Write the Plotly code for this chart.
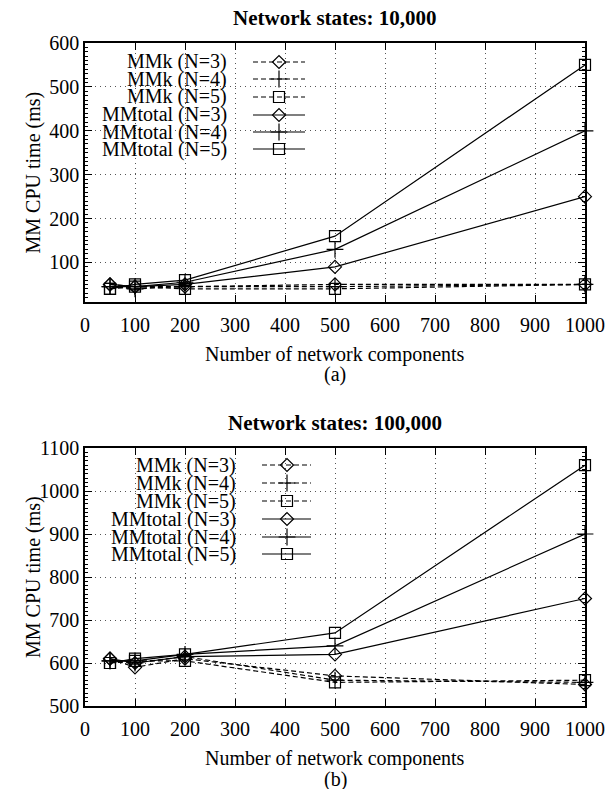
import plotly.graph_objects as go

# ---------------- data ----------------
components = [50, 100, 200, 500, 1000]
series_names = ["MMk (N=3)", "MMk (N=4)", "MMk (N=5)",
                "MMtotal (N=3)", "MMtotal (N=4)", "MMtotal (N=5)"]

# Network states: 10,000
a_mmk_n3 = [50, 45, 45, 50, 50]
a_mmk_n4 = [45, 40, 45, 45, 50]
a_mmk_n5 = [40, 45, 40, 40, 50]
a_mmt_n3 = [50, 45, 50, 90, 250]
a_mmt_n4 = [45, 45, 55, 130, 400]
a_mmt_n5 = [40, 50, 60, 160, 550]

# Network states: 100,000
b_mmk_n3 = [610, 590, 610, 570, 550]
b_mmk_n4 = [605, 600, 615, 560, 555]
b_mmk_n5 = [600, 605, 605, 555, 560]
b_mmt_n3 = [610, 600, 615, 620, 750]
b_mmt_n4 = [605, 605, 620, 640, 900]
b_mmt_n5 = [600, 610, 620, 670, 1060]

titles = ["Network states: 10,000", "Network states: 100,000"]
x_title = "Number of network components"
y_title = "MM CPU time (ms)"
sub_labels = ["(a)", "(b)"]

# ---------------- styling ----------------
W, H = 607, 789
FONT = "Liberation Serif"
symbols = ["diamond-open", "cross-thin-open", "square-open"] * 2
dashes = ["5px,3px"] * 3 + ["solid"] * 3
msize = [10, 12, 11, 10, 12, 11]

fig = go.Figure()

def px_x(p):
    return p / W

def px_y(p):
    return 1 - p / H

# plot frames in pixels: (left, right, top, bottom)
frames = [(85, 585, 43, 302), (85, 585, 448, 706)]
yranges = [[10, 600], [500, 1100]]
data_sets = [
    [a_mmk_n3, a_mmk_n4, a_mmk_n5, a_mmt_n3, a_mmt_n4, a_mmt_n5],
    [b_mmk_n3, b_mmk_n4, b_mmk_n5, b_mmt_n3, b_mmt_n4, b_mmt_n5],
]
legend_rows = [[62, 79, 97, 115, 132, 149], [465, 483, 501, 519, 537, 554]]
legend_text_right = [229, 238]
legend_line = [(253, 305, 279), (262, 311, 287)]
legend_box = [(87, 320, 45, 158), (87, 323, 450, 564)]

for i in range(2):
    L, R, T, B = frames[i]
    xa = "x" if i == 0 else "x2"
    ya = "y" if i == 0 else "y2"
    xo = "x3" if i == 0 else "x4"
    yo = "y3" if i == 0 else "y4"

    # data traces
    for k, vals in enumerate(data_sets[i]):
        fig.add_trace(go.Scatter(
            x=components, y=vals, mode="lines+markers",
            xaxis=xa, yaxis=ya, showlegend=False,
            line=dict(color="black", width=1.2, dash=dashes[k]),
            marker=dict(symbol=symbols[k], size=msize[k], color="black",
                        line=dict(color="black", width=1.2)),
            cliponaxis=False,
        ))

    # legend: white box, text and samples (on pixel-based overlay axes)
    bx0, bx1, by0, by1 = legend_box[i]
    fig.add_shape(type="rect", xref="paper", yref="paper",
                  x0=px_x(bx0), x1=px_x(bx1), y0=px_y(by1), y1=px_y(by0),
                  fillcolor="white", line=dict(width=0), layer="between")
    lx0, lx1, lm = legend_line[i]
    for k, name in enumerate(series_names):
        ry = legend_rows[i][k]
        fig.add_annotation(text=name, xref="paper", yref="paper",
                           x=px_x(legend_text_right[i]), y=px_y(ry),
                           xanchor="right", yanchor="middle", showarrow=False,
                           font=dict(family=FONT, size=20, color="black"))
        fig.add_trace(go.Scatter(
            x=[lx0, lx1], y=[ry, ry], mode="lines", xaxis=xo, yaxis=yo,
            showlegend=False, hoverinfo="skip",
            line=dict(color="black", width=1.2, dash=dashes[k])))
        fig.add_trace(go.Scatter(
            x=[lm], y=[ry], mode="markers", xaxis=xo, yaxis=yo,
            showlegend=False, hoverinfo="skip",
            marker=dict(symbol=symbols[k], size=msize[k], color="black",
                        line=dict(color="black", width=1.2))))

    # titles
    cx = (L + R) / 2
    fig.add_annotation(text="<b>%s</b>" % titles[i], xref="paper", yref="paper",
                       x=px_x(cx), y=px_y(T - 25), xanchor="center", yanchor="middle",
                       showarrow=False, font=dict(family=FONT, size=21, color="black"))
    fig.add_annotation(text=x_title, xref="paper", yref="paper",
                       x=px_x(cx), y=px_y(B + 52), xanchor="center", yanchor="middle",
                       showarrow=False, font=dict(family=FONT, size=20, color="black"))
    fig.add_annotation(text=sub_labels[i], xref="paper", yref="paper",
                       x=px_x(cx), y=px_y(B + 73), xanchor="center", yanchor="middle",
                       showarrow=False, font=dict(family=FONT, size=20, color="black"))
    fig.add_annotation(text=y_title, xref="paper", yref="paper",
                       x=px_x(33), y=px_y((T + B) / 2), xanchor="center", yanchor="middle",
                       textangle=-90, showarrow=False,
                       font=dict(family=FONT, size=20, color="black"))

axis_common = dict(
    showline=True, linecolor="black", linewidth=1.5, mirror="allticks",
    ticks="inside", ticklen=7, tickcolor="black", tickwidth=1,
    showgrid=True, gridcolor="#555555", griddash="1px,4px", gridwidth=1.2,
    zeroline=False, tickfont=dict(family=FONT, size=20, color="black"),
    automargin=False,
)

layout = dict(
    width=W, height=H, margin=dict(l=0, r=0, t=0, b=0),
    plot_bgcolor="white", paper_bgcolor="white", showlegend=False,
)
for i in range(2):
    L, R, T, B = frames[i]
    xdom = [L / W, R / W]
    ydom = [1 - B / H, 1 - T / H]
    xk = "xaxis" if i == 0 else "xaxis2"
    yk = "yaxis" if i == 0 else "yaxis2"
    xok = "xaxis3" if i == 0 else "xaxis4"
    yok = "yaxis3" if i == 0 else "yaxis4"
    xa = "x" if i == 0 else "x2"
    ya = "y" if i == 0 else "y2"
    layout[xk] = dict(axis_common, domain=xdom, range=[0, 1000], tick0=0, dtick=100,
                      anchor=ya, ticklabelstandoff=4)
    layout[yk] = dict(axis_common, domain=ydom, range=yranges[i], tick0=0, dtick=100,
                      anchor=xa,
                      minor=dict(dtick=10, ticks="inside", ticklen=3,
                                 tickcolor="black", showgrid=False))
    layout[xok] = dict(overlaying=xa, range=[L, R], visible=False, anchor=ya)
    layout[yok] = dict(overlaying=ya, range=[B, T], visible=False, anchor=xa)

fig.update_layout(**layout)
fig.write_html("out.html", config={"displayModeBar": False},
               post_script="document.body.style.margin='0';document.body.style.overflow='hidden';")
